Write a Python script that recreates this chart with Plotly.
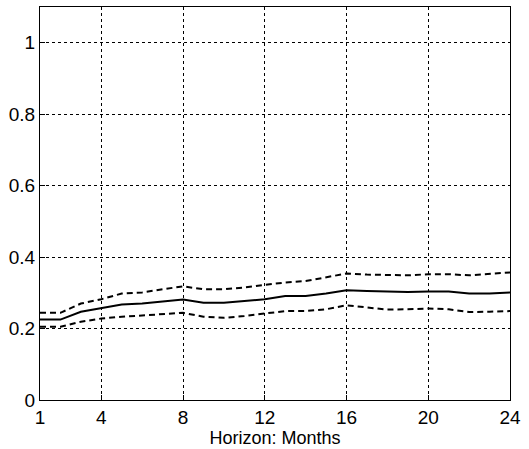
import plotly.graph_objects as go

months = list(range(1, 25))
median = [0.225, 0.225, 0.247, 0.256, 0.267, 0.270, 0.275, 0.281, 0.272, 0.272, 0.277, 0.282,
          0.291, 0.291, 0.298, 0.307, 0.305, 0.303, 0.302, 0.304, 0.304, 0.298, 0.298, 0.301]
upper = [0.244, 0.244, 0.270, 0.282, 0.298, 0.301, 0.310, 0.318, 0.310, 0.310, 0.315, 0.323,
         0.329, 0.333, 0.344, 0.354, 0.351, 0.349, 0.349, 0.352, 0.352, 0.349, 0.352, 0.357]
lower = [0.205, 0.205, 0.219, 0.228, 0.233, 0.236, 0.240, 0.244, 0.233, 0.230, 0.235, 0.242,
         0.249, 0.249, 0.254, 0.265, 0.259, 0.253, 0.254, 0.256, 0.254, 0.246, 0.247, 0.249]
xticks = [1, 4, 8, 12, 16, 20, 24]
yticks = [0, 0.2, 0.4, 0.6, 0.8, 1]
yticklabels = ["0", "0.2", "0.4", "0.6", "0.8", "1"]

FONT = "Liberation Sans, Arial, sans-serif"

fig = go.Figure()
fig.add_trace(go.Scatter(x=months, y=upper, mode="lines",
                         line=dict(color="black", width=2, dash="6px,4px")))
fig.add_trace(go.Scatter(x=months, y=lower, mode="lines",
                         line=dict(color="black", width=2, dash="6px,4px")))
fig.add_trace(go.Scatter(x=months, y=median, mode="lines",
                         line=dict(color="black", width=2)))

axis_common = dict(showline=True, linecolor="black", linewidth=1, mirror=True,
                   showgrid=True, gridcolor="black", griddash="dot", gridwidth=1,
                   ticks="inside", ticklen=5, tickcolor="black", zeroline=False,
                   tickfont=dict(family=FONT, size=19, color="black"))

fig.update_layout(
    width=529, height=449,
    margin=dict(l=40, r=19, t=7, b=49),
    paper_bgcolor="white", plot_bgcolor="white",
    showlegend=False,
    xaxis=dict(range=[1, 24], tickvals=xticks, ticktext=[str(v) for v in xticks],
               title=dict(text="Horizon: Months", standoff=0,
                          font=dict(family=FONT, size=18, color="black")),
               **axis_common),
    yaxis=dict(range=[0, 1.1], tickvals=yticks, ticktext=yticklabels, **axis_common),
)

fig.write_html("out.html", config={"displayModeBar": False},
               post_script="document.body.style.margin='0';")
